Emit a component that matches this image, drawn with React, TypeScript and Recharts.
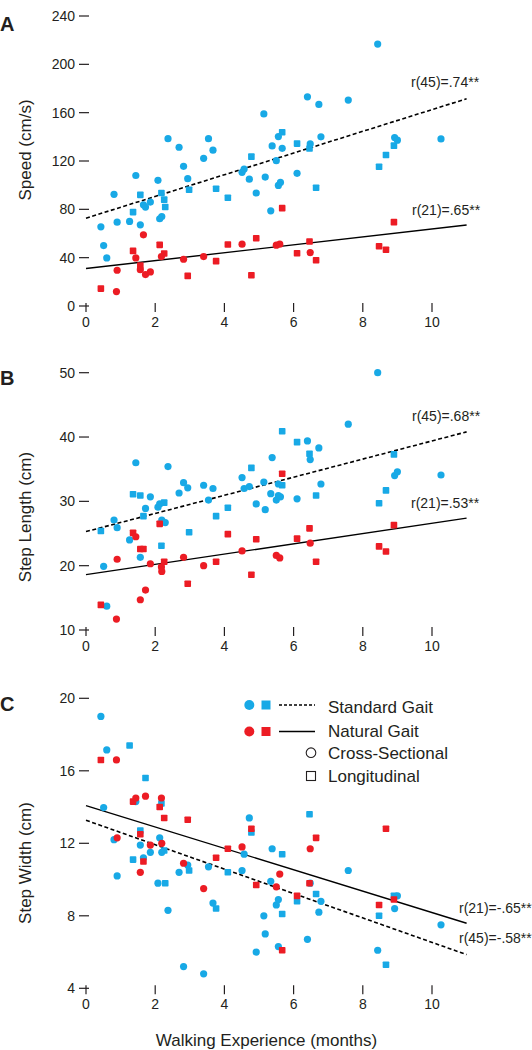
import { ScatterChart, Scatter, XAxis, YAxis, ReferenceLine } from 'recharts'

// [months, value, 'c' = cross-sectional | 's' = longitudinal]
type Pt = [number, number, 'c' | 's']

const BLUE = '#18a9e6'
const RED = '#ec1c24'
const INK = '#231f20'
const FONT = '"Liberation Sans", Arial, Helvetica, sans-serif'

const monthTicks = [0, 2, 4, 6, 8, 10]
const monthDomain: [number, number] = [0, 11]

const speedTicks = [0, 40, 80, 120, 160, 200, 240]
const lengthTicks = [10, 20, 30, 40, 50]
const widthTicks = [4, 8, 12, 16, 20]

// fitted lines: value at 0 and at 11 months
const speedFitStandard = [72.7, 171.5]
const speedFitNatural = [31, 67]
const lengthFitStandard = [25.3, 40.8]
const lengthFitNatural = [18.6, 27.4]
const widthFitStandard = [13.27, 5.86]
const widthFitNatural = [14.08, 7.59]

const speedStandard: Pt[] = [
  [0.43, 65.5, 'c'], [0.51, 50, 'c'], [0.6, 39.8, 'c'], [0.81, 92.4, 'c'], [0.9, 69.4, 'c'],
  [1.26, 70, 'c'], [1.36, 77.7, 's'], [1.44, 108, 'c'], [1.57, 92, 's'], [1.57, 67.2, 'c'],
  [1.66, 83.8, 'c'], [1.72, 81.9, 'c'], [1.86, 86, 'c'], [2.08, 104, 'c'], [2.18, 93.5, 's'],
  [2.13, 72.2, 'c'], [2.19, 74, 'c'], [2.26, 88, 's'], [2.29, 81.9, 's'], [2.37, 138.5, 'c'],
  [2.69, 131.4, 'c'], [2.82, 115.6, 'c'], [2.94, 105.4, 'c'], [2.98, 96.2, 's'], [3.4, 122.2, 'c'],
  [3.54, 138.5, 'c'], [3.67, 129, 'c'], [3.76, 97, 's'], [4.1, 89.6, 's'], [4.51, 110.6, 'c'],
  [4.57, 113.4, 'c'], [4.72, 105, 'c'], [4.78, 123.6, 's'], [4.92, 93.5, 'c'], [5.14, 159, 'c'],
  [5.18, 106.7, 'c'], [5.34, 78.8, 'c'], [5.38, 132.5, 'c'], [5.5, 120.3, 'c'], [5.56, 140.2, 'c'],
  [5.67, 143.8, 's'], [5.67, 130.5, 'c'], [5.56, 99.8, 'c'], [5.62, 102.3, 'c'], [6.1, 134.4, 's'],
  [6.1, 109.8, 'c'], [6.4, 173.1, 'c'], [6.48, 134.1, 'c'], [6.46, 130.3, 's'], [6.65, 97.9, 's'],
  [6.73, 166.8, 'c'], [6.79, 140, 'c'], [7.58, 170.4, 'c'], [8.43, 216.8, 'c'], [8.47, 115.3, 's'],
  [8.67, 125, 's'], [8.9, 132.7, 's'], [8.92, 139.4, 'c'], [9.0, 137.2, 'c'], [10.26, 138.3, 'c'],
]

const speedNatural: Pt[] = [
  [0.43, 14.4, 's'], [0.88, 11.9, 'c'], [0.9, 29.6, 'c'], [1.36, 45.6, 's'], [1.44, 39.8, 'c'],
  [1.57, 33.5, 's'], [1.57, 30.1, 'c'], [1.66, 58.9, 'c'], [1.72, 26, 'c'], [1.86, 28.2, 'c'],
  [2.13, 50.6, 's'], [2.18, 40.9, 'c'], [2.26, 43.4, 's'], [2.82, 38.7, 'c'], [2.94, 24.9, 's'],
  [3.4, 40.9, 'c'], [3.76, 37.1, 's'], [4.1, 50.9, 's'], [4.51, 51.2, 'c'], [4.78, 25.4, 's'],
  [4.92, 56.1, 's'], [5.5, 50.3, 'c'], [5.6, 51.2, 'c'], [5.67, 81, 's'], [6.1, 43.7, 's'],
  [6.46, 53.4, 's'], [6.48, 44.2, 'c'], [6.65, 37.9, 's'], [8.47, 49.5, 's'], [8.67, 46.5, 's'],
  [8.9, 69.4, 's'],
]

const lengthStandard: Pt[] = [
  [0.43, 25.4, 's'], [0.51, 19.9, 'c'], [0.6, 13.7, 'c'], [0.81, 27.1, 'c'], [0.9, 25.9, 'c'],
  [1.26, 24, 'c'], [1.36, 31.1, 's'], [1.44, 36, 'c'], [1.57, 30.9, 's'], [1.57, 21.3, 'c'],
  [1.66, 27.7, 's'], [1.72, 28.9, 'c'], [1.86, 30.7, 'c'], [2.08, 29.1, 'c'], [2.13, 29.6, 'c'],
  [2.18, 23.1, 's'], [2.19, 27.1, 'c'], [2.26, 29.8, 's'], [2.29, 26.7, 'c'], [2.37, 35.4, 'c'],
  [2.69, 31.3, 'c'], [2.82, 32.9, 'c'], [2.94, 32.1, 'c'], [2.98, 25.2, 's'], [3.4, 32.5, 'c'],
  [3.54, 30.2, 'c'], [3.67, 32, 'c'], [3.76, 27.7, 's'], [4.1, 29, 's'], [4.51, 33.7, 'c'],
  [4.57, 32, 'c'], [4.72, 32.3, 'c'], [4.78, 35.2, 's'], [4.92, 29.6, 'c'], [5.14, 33, 'c'],
  [5.18, 28.7, 'c'], [5.34, 31.2, 'c'], [5.38, 36.8, 'c'], [5.5, 30.2, 'c'], [5.56, 30.9, 'c'],
  [5.67, 40.9, 's'], [5.67, 32.5, 's'], [5.56, 32.7, 'c'], [5.62, 30.7, 'c'], [6.1, 39.2, 's'],
  [6.1, 30.4, 'c'], [6.4, 39.4, 'c'], [6.48, 36.5, 'c'], [6.46, 37.4, 's'], [6.65, 30.9, 's'],
  [6.73, 38.3, 'c'], [6.79, 32.7, 'c'], [7.58, 42, 'c'], [8.43, 50, 'c'], [8.47, 29.7, 's'],
  [8.67, 31.7, 's'], [8.9, 37.3, 's'], [8.92, 34, 'c'], [9.0, 34.6, 'c'], [10.26, 34.1, 'c'],
]

const lengthNatural: Pt[] = [
  [0.43, 13.9, 's'], [0.88, 11.7, 'c'], [0.9, 21, 'c'], [1.36, 25.1, 's'], [1.44, 24.5, 'c'],
  [1.57, 22.6, 's'], [1.57, 14.7, 'c'], [1.66, 22.6, 's'], [1.72, 16.2, 'c'], [1.86, 20.3, 'c'],
  [2.13, 26.5, 's'], [2.18, 19.8, 'c'], [2.19, 19.1, 'c'], [2.26, 20.6, 's'], [2.82, 21.3, 'c'],
  [2.94, 17.2, 's'], [3.4, 20, 'c'], [3.76, 20.6, 's'], [4.1, 24.9, 's'], [4.51, 22.3, 'c'],
  [4.78, 18.6, 's'], [4.92, 24.1, 's'], [5.5, 21.6, 'c'], [5.6, 21.2, 'c'], [5.67, 34.3, 's'],
  [6.1, 24.2, 's'], [6.46, 25.8, 's'], [6.48, 23.5, 'c'], [6.65, 20.6, 's'], [8.47, 23, 's'],
  [8.67, 22.2, 's'], [8.9, 26.3, 's'],
]

const widthStandard: Pt[] = [
  [0.43, 19, 'c'], [0.51, 13.97, 'c'], [0.6, 17.15, 'c'], [0.81, 12.2, 'c'], [0.9, 10.2, 'c'],
  [1.26, 17.4, 's'], [1.36, 11.1, 's'], [1.44, 14.3, 'c'], [1.57, 12.7, 's'], [1.57, 11.9, 'c'],
  [1.66, 11.2, 'c'], [1.72, 15.6, 's'], [1.86, 11.5, 'c'], [2.08, 9.8, 'c'], [2.13, 12.3, 'c'],
  [2.18, 14.2, 's'], [2.19, 11.5, 'c'], [2.26, 11.6, 's'], [2.29, 9.8, 's'], [2.37, 8.3, 'c'],
  [2.69, 10.4, 'c'], [2.82, 5.2, 'c'], [2.94, 10.8, 'c'], [2.98, 10.5, 's'], [3.4, 4.8, 'c'],
  [3.54, 10.7, 'c'], [3.67, 8.7, 'c'], [3.76, 8.4, 's'], [4.1, 10.4, 's'], [4.51, 10.5, 'c'],
  [4.57, 11.4, 'c'], [4.72, 13.4, 'c'], [4.78, 12.6, 's'], [4.92, 6, 'c'], [5.14, 8, 'c'],
  [5.18, 7, 'c'], [5.34, 9.9, 'c'], [5.38, 11.7, 'c'], [5.5, 8.6, 'c'], [5.56, 6.3, 'c'],
  [5.67, 11.4, 's'], [5.67, 8.1, 's'], [5.56, 8.9, 'c'], [6.1, 8.8, 's'], [6.4, 6.7, 'c'],
  [6.48, 9.8, 'c'], [6.46, 13.6, 's'], [6.65, 9.2, 's'], [6.73, 8.2, 'c'], [6.79, 8.8, 'c'],
  [7.58, 10.5, 'c'], [8.43, 6.1, 'c'], [8.47, 8, 's'], [8.67, 5.3, 's'], [8.9, 9.1, 's'],
  [8.92, 8.4, 'c'], [9.0, 9.1, 'c'], [10.26, 7.5, 'c'],
]

const widthNatural: Pt[] = [
  [0.43, 16.6, 's'], [0.88, 16.6, 'c'], [0.9, 12.3, 'c'], [1.36, 14.3, 's'], [1.44, 14.5, 'c'],
  [1.57, 12.5, 's'], [1.57, 10.4, 'c'], [1.66, 11, 's'], [1.72, 14.6, 'c'], [1.86, 11.9, 'c'],
  [2.13, 14, 's'], [2.18, 14.5, 'c'], [2.19, 12, 'c'], [2.26, 13.4, 's'], [2.82, 10.9, 'c'],
  [2.94, 13.3, 's'], [3.4, 9.5, 'c'], [3.76, 11.2, 's'], [4.1, 11.7, 's'], [4.51, 11.8, 'c'],
  [4.78, 12.8, 's'], [4.92, 9.7, 's'], [5.5, 9.6, 'c'], [5.6, 10.3, 'c'], [5.67, 6.1, 's'],
  [6.1, 9.1, 's'], [6.46, 9.8, 's'], [6.48, 11.7, 'c'], [6.65, 12.3, 's'], [8.47, 8.6, 's'],
  [8.67, 12.8, 's'], [8.9, 8.9, 's'],
]

const toRows = (pts: Pt[]) => pts.map(([x, y, k]) => ({ x, y, long: k === 's' }))

const markShape = (fill: string) => (props: any) => {
  const { cx, cy, payload } = props
  if (cx == null || cy == null) return <g />
  if (payload?.long) {
    return <rect x={cx - 3.3} y={cy - 3.3} width={6.6} height={6.6} rx={0.8} fill={fill} />
  }
  return <circle cx={cx} cy={cy} r={3.6} fill={fill} />
}

function XTick({ x, y, payload }: any) {
  return (
    <g>
      <line x1={x} x2={x} y1={y - 3} y2={y + 6} stroke={INK} strokeWidth={1.2} />
      <text x={x} y={y + 21} textAnchor="middle" fontSize={14} fill={INK} fontFamily={FONT}>
        {payload.value}
      </text>
    </g>
  )
}

function YTick({ x, y, payload }: any) {
  return (
    <g>
      <line x1={x - 7} x2={x + 3} y1={y} y2={y} stroke={INK} strokeWidth={1.2} />
      <text x={x - 11} y={y} dy="0.36em" textAnchor="end" fontSize={14} fill={INK} fontFamily={FONT}>
        {payload.value}
      </text>
    </g>
  )
}

type PanelProps = {
  top: number
  height: number
  plotTop: number
  plotBottom: number
  yTicks: number[]
  standard: Pt[]
  natural: Pt[]
  fitStandard: number[]
  fitNatural: number[]
}

function Panel({ top, height, plotTop, plotBottom, yTicks, standard, natural, fitStandard, fitNatural }: PanelProps) {
  const yDomain: [number, number] = [yTicks[0], yTicks[yTicks.length - 1]]
  return (
    <div style={{ position: 'absolute', left: 0, top, width: 532, height }}>
      <ScatterChart width={532} height={height} margin={{ top: plotTop, right: 65.4, bottom: 0, left: 0 }}>
        <XAxis
          type="number"
          dataKey="x"
          domain={monthDomain}
          ticks={monthTicks}
          axisLine={false}
          tickLine={false}
          tickSize={0}
          tickMargin={0}
          height={height - plotBottom}
          tick={<XTick />}
          interval={0}
        />
        <YAxis
          type="number"
          dataKey="y"
          domain={yDomain}
          ticks={yTicks}
          axisLine={false}
          tickLine={false}
          tickSize={0}
          tickMargin={0}
          width={86}
          tick={<YTick />}
          interval={0}
        />
        <Scatter data={toRows(standard)} fill={BLUE} shape={markShape(BLUE)} isAnimationActive={false} />
        <Scatter data={toRows(natural)} fill={RED} shape={markShape(RED)} isAnimationActive={false} />
        <ReferenceLine
          segment={[{ x: monthDomain[0], y: fitStandard[0] }, { x: monthDomain[1], y: fitStandard[1] }]}
          stroke="#000"
          strokeWidth={1.6}
          strokeDasharray="4 2.5"
          ifOverflow="visible"
        />
        <ReferenceLine
          segment={[{ x: monthDomain[0], y: fitNatural[0] }, { x: monthDomain[1], y: fitNatural[1] }]}
          stroke="#000"
          strokeWidth={1.4}
          ifOverflow="visible"
        />
      </ScatterChart>
    </div>
  )
}

const txt = { fontFamily: FONT, fill: INK }

export default function App() {
  return (
    <div style={{ position: 'absolute', left: 0, top: 0, width: 532, height: 1050, background: '#fff', overflow: 'hidden' }}>
      <Panel top={0} height={340} plotTop={16} plotBottom={306} yTicks={speedTicks}
        standard={speedStandard} natural={speedNatural} fitStandard={speedFitStandard} fitNatural={speedFitNatural} />
      <Panel top={340} height={320} plotTop={32.7} plotBottom={290} yTicks={lengthTicks}
        standard={lengthStandard} natural={lengthNatural} fitStandard={lengthFitStandard} fitNatural={lengthFitNatural} />
      <Panel top={660} height={390} plotTop={38.3} plotBottom={328.3} yTicks={widthTicks}
        standard={widthStandard} natural={widthNatural} fitStandard={widthFitStandard} fitNatural={widthFitNatural} />

      <svg width={532} height={1050} style={{ position: 'absolute', left: 0, top: 0, pointerEvents: 'none' }}>
        <g {...txt} fontWeight="bold" fontSize={20}>
          <text x={0} y={31}>A</text>
          <text x={0} y={385}>B</text>
          <text x={0} y={710.5}>C</text>
        </g>
        <g {...txt} fontSize={17} textAnchor="middle">
          <text transform="translate(25.5,150) rotate(-90)" dy="0.35em">Speed (cm/s)</text>
          <text transform="translate(25.5,517) rotate(-90)" dy="0.35em">Step Length (cm)</text>
          <text transform="translate(25.5,863) rotate(-90)" dy="0.35em">Step Width (cm)</text>
          <text x={266.5} y={1040} dy="0.35em">Walking Experience (months)</text>
        </g>
        <g {...txt} fontSize={14}>
          <text x={411} y={82} dy="0.35em">r(45)=.74**</text>
          <text x={412} y={210} dy="0.35em">r(21)=.65**</text>
          <text x={412} y={416} dy="0.35em">r(45)=.68**</text>
          <text x={411} y={503} dy="0.35em">r(21)=.53**</text>
          <text x={459} y={908} dy="0.35em">r(21)=-.65**</text>
          <text x={459} y={938} dy="0.35em">r(45)=-.58**</text>
        </g>
        {/* legend */}
        <circle cx={249.3} cy={705} r={5} fill={BLUE} />
        <rect x={261.5} y={700.5} width={9} height={9} fill={BLUE} />
        <line x1={279} x2={315} y1={705} y2={705} stroke="#000" strokeWidth={1.4} strokeDasharray="3 2" />
        <circle cx={249.3} cy={731.5} r={5} fill={RED} />
        <rect x={261.5} y={727} width={9} height={9} fill={RED} />
        <line x1={279} x2={315} y1={731.5} y2={731.5} stroke="#000" strokeWidth={1.4} />
        <circle cx={311} cy={752.7} r={4.8} fill="none" stroke={INK} strokeWidth={1.1} />
        <rect x={306.5} y={771.5} width={9} height={9} fill="none" stroke={INK} strokeWidth={1.1} />
        <g {...txt} fontSize={17}>
          <text x={328} y={707} dy="0.35em">Standard Gait</text>
          <text x={328} y={731.5} dy="0.35em">Natural Gait</text>
          <text x={328} y={752.7} dy="0.35em">Cross-Sectional</text>
          <text x={328} y={776} dy="0.35em">Longitudinal</text>
        </g>
      </svg>
    </div>
  )
}
